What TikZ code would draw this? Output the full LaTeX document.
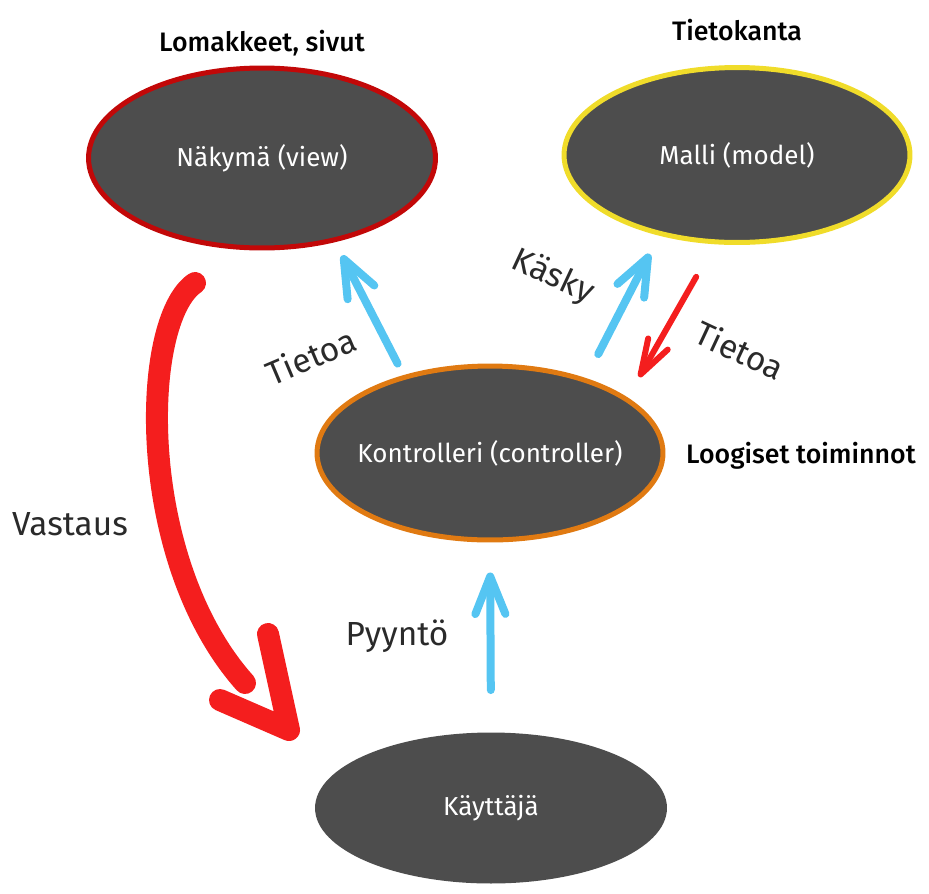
\documentclass[tikz,border=0pt]{standalone}
\usepackage{fontspec}
\setmainfont{Fira Sans}
\newfontfamily\medfont{Fira Sans Medium}
\usepackage{tikz}
\usetikzlibrary{arrows.meta, shapes.geometric}
\definecolor{boxgray}{HTML}{4D4D4D}
\definecolor{viewred}{HTML}{C20808}
\definecolor{modelyellow}{HTML}{F0DC2A}
\definecolor{ctrlorange}{HTML}{E07A12}
\definecolor{skyblue}{HTML}{55C5F2}
\definecolor{brightred}{HTML}{F41E1E}
\definecolor{textgray}{HTML}{2A2A2A}

\begin{document}
\begin{tikzpicture}[x=0.02cm, y=-0.02cm]
	\tikzset{
		layer/.style={ellipse, fill=boxgray, line width=0.1cm, inner sep=0pt},
		layertext/.style={text=white, font=\fontsize{14.8}{17}\selectfont},
		caption/.style={font=\medfont\fontsize{15.2}{18}\selectfont, text=black},
		flowtext/.style={font=\fontsize{19}{22}\selectfont, text=textgray},
		bluearrow/.style={draw=skyblue, line width=0.16cm, line cap=round, -{Straight Barb[length=0.75cm, width=0.6cm, round]}},
		redarrow/.style={draw=brightred, line width=0.12cm, line cap=round, -{Straight Barb[length=0.7cm, width=0.45cm, round]}},
		bigred/.style={draw=brightred, line width=0.44cm, line cap=round, line join=round}
	}
	\useasboundingbox (0,0) rectangle (929,893);
	\node[layer, draw=viewred, minimum width=6.94cm, minimum height=3.6cm, label={[layertext]center:Näkymä (view)}] (view) at (262,158) {};
	\node[layer, draw=modelyellow, minimum width=6.92cm, minimum height=3.5cm, label={[layertext]center:Malli (model)}] (model) at (737,155) {};
	\node[layer, draw=ctrlorange, minimum width=6.92cm, minimum height=3.48cm, label={[layertext]center:Kontrolleri (controller)}] (ctrl) at (490,453) {};
	\node[layer, minimum width=7.04cm, minimum height=3.02cm, label={[layertext]center:Käyttäjä}] (user) at (491,808) {};
	\node[caption] (viewcap) at (262,43) {Lomakkeet, sivut};
	\node[caption] (modelcap) at (737,30) {Tietokanta};
	\node[caption, anchor=west] (ctrlcap) at (680,456) {Loogiset toiminnot};
	\node[flowtext] (answer) at (70,524) {Vastaus};
	\node[flowtext] (request) at (397,636) {Pyyntö};
	\node[flowtext, rotate=23] (viewdata) at (311,356) {Tietoa};
	\node[flowtext, rotate=-25] (command) at (553,277) {Käsky};
	\node[flowtext, rotate=-25] (modeldata) at (740,350) {Tietoa};
	\draw[bluearrow, shorten <=0.26cm, shorten >=0.3cm] (ctrl.138.7) -- (view.-49.1);
	\draw[bluearrow, shorten <=0.54cm, shorten >=0.41cm] (ctrl.38.1) -- (model.-134.5);
	\draw[redarrow, shorten <=0.75cm, shorten >=0.47cm] (model.-104.2) -- (ctrl.22.4);
	\draw[bluearrow, shorten <=0.8cm, shorten >=0.6cm] (user.north) -- (ctrl.south);
	\coordinate (backstart) at (195,283);
	\coordinate (backend) at (245,683);
	\coordinate (backtip) at (289,730);
	\draw[bigred] (backstart) .. controls (140,320) and (135,560) .. (backend);
	\draw[bigred] (220,700) -- (backtip) -- (268,634);
\end{tikzpicture}
\end{document}
